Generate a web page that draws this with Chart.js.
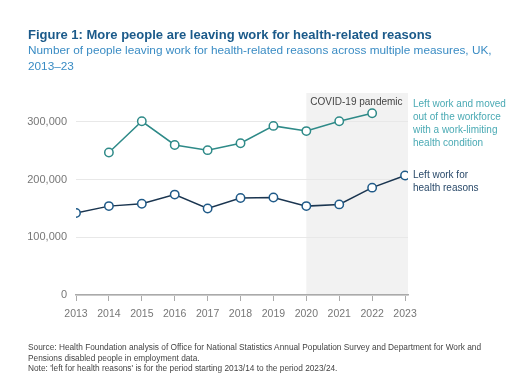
<!DOCTYPE html>
<html>
<head>
<meta charset="utf-8">
<script src="https://cdn.jsdelivr.net/npm/chart.js@4"></script>
<style>
  body { margin: 0; background: #fff; font-family: "Liberation Sans", Arial, sans-serif; }
  #wrap { position: relative; width: 528px; height: 376px; overflow: hidden; }
  #chart { position: absolute; left: 0; top: 0; }
  .title { position: absolute; left: 28px; top: 27px; font-size: 13px; font-weight: bold; color: #1b5a8a; white-space: nowrap; }
  .sub { position: absolute; left: 28px; top: 42px; font-size: 11.8px; line-height: 16px; color: #3a8cc4; white-space: nowrap; }
  .note { position: absolute; left: 28px; top: 342px; font-size: 8.3px; line-height: 10.5px; color: #444; white-space: nowrap; }
</style>
</head>
<body>
<div id="wrap">
  <canvas id="chart" width="528" height="376"></canvas>
  <div class="title">Figure 1: More people are leaving work for health-related reasons</div>
  <div class="sub">Number of people leaving work for health-related reasons across multiple measures, UK,<br>2013–23</div>
  <div class="note">Source: Health Foundation analysis of Office for National Statistics Annual Population Survey and Department for Work and<br>Pensions disabled people in employment data.<br>Note: 'left for health reasons' is for the period starting 2013/14 to the period 2023/24.</div>
</div>
<script>
// Data
const years = [2013, 2014, 2015, 2016, 2017, 2018, 2019, 2020, 2021, 2022, 2023];
const leftWorkforce = [null, 247000, 301000, 260000, 251000, 263000, 293000, 284000, 301000, 315000, null];
const leftHealth = [142000, 154000, 158000, 174000, 150000, 168000, 169000, 154000, 157000, 186000, 207000];
const yTicks = [0, 100000, 200000, 300000];

const teal = '#2e8a88';
const navy = '#1a3550';
const navyPoint = '#1f5a88';
const fontFamily = '"Liberation Sans", Arial, sans-serif';

const toPoints = vals => years.map((yr, i) => ({ x: yr, y: vals[i] }));

// shaded covid period + annotations
const extras = {
  id: 'extras',
  beforeDraw(chart) {
    const { ctx, chartArea, scales } = chart;
    const x0 = scales.x.getPixelForValue(2020);
    ctx.save();
    ctx.fillStyle = '#f2f2f2';
    ctx.fillRect(x0, chartArea.top, chartArea.right - x0, chartArea.bottom - chartArea.top);
    ctx.restore();
  },
  afterDatasetsDraw(chart) {
    const { ctx, chartArea, scales } = chart;
    ctx.save();
    ctx.font = '10px ' + fontFamily;
    ctx.textBaseline = 'middle';
    ctx.fillStyle = '#444';
    ctx.fillText('COVID-19 pandemic', scales.x.getPixelForValue(2020) + 4, chartArea.top + 9);

    const tx = chartArea.right + 5;
    ctx.fillStyle = '#4aaab4';
    ['Left work and moved', 'out of the workforce', 'with a work-limiting', 'health condition']
      .forEach((t, i) => ctx.fillText(t, tx, chartArea.top + 11 + i * 13));

    const yh = scales.y.getPixelForValue(leftHealth[leftHealth.length - 1]);
    ctx.fillStyle = '#2a4a6a';
    ['Left work for', 'health reasons'].forEach((t, i) => ctx.fillText(t, tx, yh + i * 13));
    ctx.restore();
  }
};

new Chart(document.getElementById('chart'), {
  type: 'line',
  data: {
    datasets: [
      {
        label: 'Left work and moved out of the workforce with a work-limiting health condition',
        data: toPoints(leftWorkforce),
        borderColor: teal,
        borderWidth: 1.5,
        pointRadius: 4.2,
        pointBorderWidth: 1.5,
        pointBorderColor: teal,
        pointBackgroundColor: '#fff',
        spanGaps: false
      },
      {
        label: 'Left work for health reasons',
        data: toPoints(leftHealth),
        borderColor: navy,
        borderWidth: 1.5,
        pointRadius: 4.2,
        pointBorderWidth: 1.5,
        pointBorderColor: navyPoint,
        pointBackgroundColor: '#fff'
      }
    ]
  },
  options: {
    responsive: false,
    animation: false,
    events: [],
    layout: { padding: { top: 93, right: 120, left: 0, bottom: 0 } },
    plugins: { legend: { display: false }, tooltip: { enabled: false } },
    scales: {
      x: {
        type: 'linear',
        min: 2013,
        max: 2023.09,
        afterFit(scale) { scale.height = 81; },
        afterBuildTicks(scale) { scale.ticks = years.map(v => ({ value: v })); },
        ticks: {
          autoSkip: false,
          maxRotation: 0,
          padding: 7,
          color: '#777',
          font: { size: 10.5, family: fontFamily },
          callback: v => String(v)
        },
        grid: { drawOnChartArea: false, tickLength: 6, color: '#aaa', lineWidth: 1 },
        border: { color: '#aaa', width: 1.5 }
      },
      y: {
        min: 0,
        max: 350000,
        afterFit(scale) { scale.width = 76; },
        afterBuildTicks(scale) { scale.ticks = yTicks.map(v => ({ value: v })); },
        ticks: {
          padding: 9,
          color: '#777',
          font: { size: 11, family: fontFamily },
          callback: v => v.toLocaleString('en-GB')
        },
        grid: { color: '#e8e8e8', drawTicks: false, lineWidth: 1 },
        border: { display: false }
      }
    }
  },
  plugins: [extras]
});
</script>
</body>
</html>
